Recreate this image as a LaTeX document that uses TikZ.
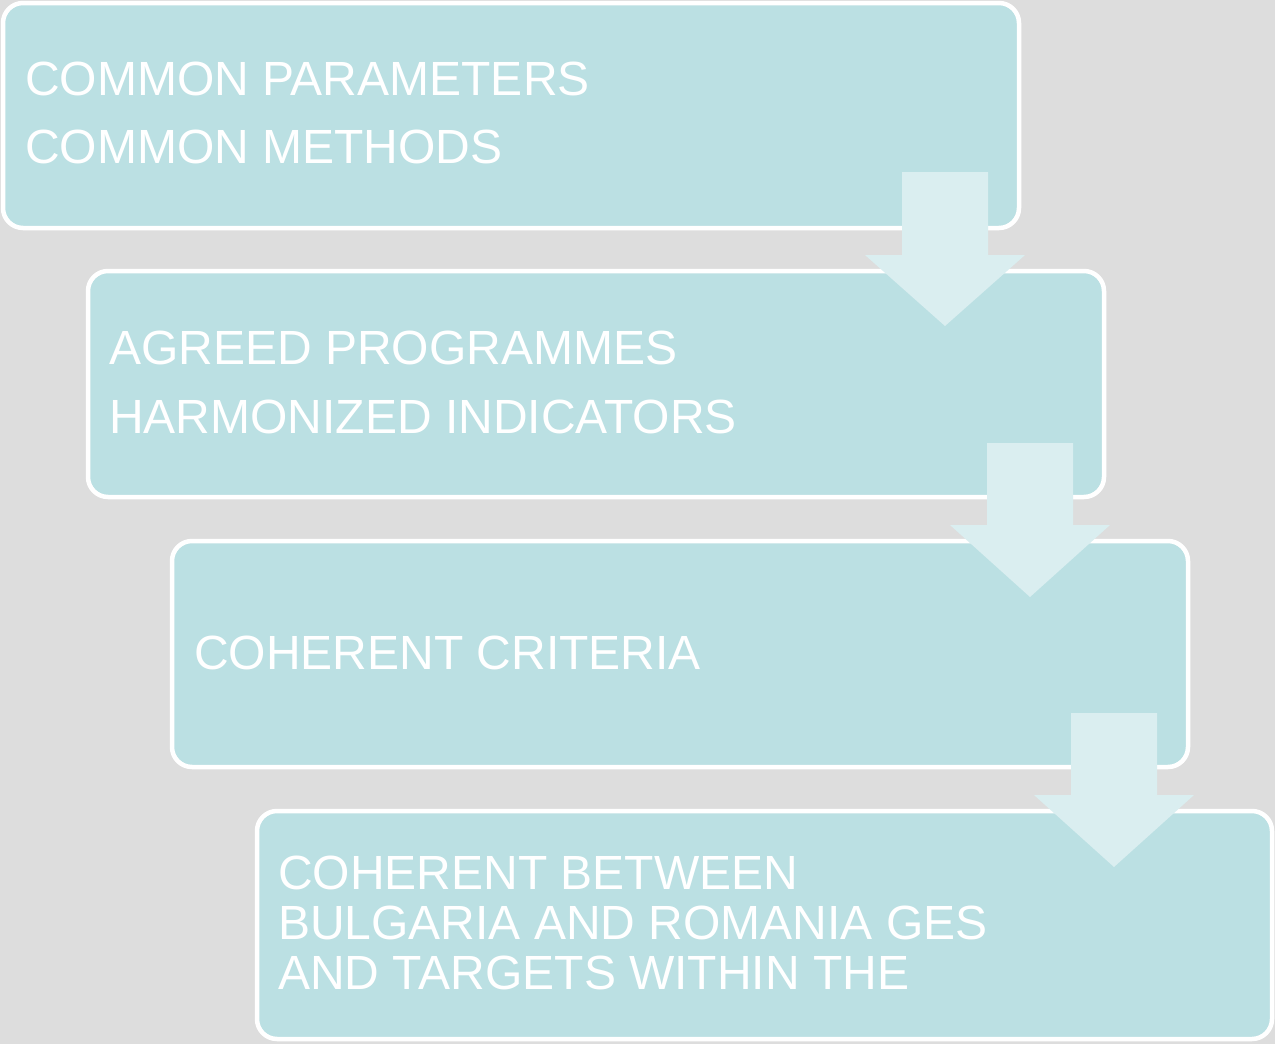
\documentclass[tikz,border=0pt]{standalone}
\usepackage{fontspec}
\setmainfont{Liberation Sans}
\definecolor{bggray}{HTML}{DDDDDD}
\definecolor{boxfill}{HTML}{BBE0E3}
\definecolor{arrowfill}{HTML}{DAEEF0}
\tikzset{
  stagebox/.style={draw=white, line width=4.5pt, fill=boxfill, rounded corners=20pt},
  stagetext/.style={anchor=base west, text=white, font=\fontsize{48}{52}\selectfont, inner sep=0pt},
  downarrow/.style={fill=arrowfill, draw=none}
}
\begin{document}
\begin{tikzpicture}[x=1pt,y=-1pt]
\fill[bggray] (0,0) rectangle (1275,1044);
\useasboundingbox (0,0) rectangle (1275,1044);
% boxes
\draw[stagebox] (3,3) rectangle (1019,228);
\draw[stagebox] (88,271) rectangle (1104,497);
\draw[stagebox] (172,541) rectangle (1188,767);
\draw[stagebox] (257,811) rectangle (1272,1039);
% arrows
\fill[downarrow] (902,172) -- (988,172) -- (988,255) -- (1025,255) -- (945,326) -- (865,255) -- (902,255) -- cycle;
\fill[downarrow] (987,443) -- (1073,443) -- (1073,525) -- (1110,525) -- (1030,597) -- (950,525) -- (987,525) -- cycle;
\fill[downarrow] (1071,713) -- (1157,713) -- (1157,795) -- (1194,795) -- (1114,867) -- (1034,795) -- (1071,795) -- cycle;
% texts
\node[stagetext] (t1a) at (25,95) {COMMON PARAMETERS};
\node[stagetext] (t1b) at (25,163) {COMMON METHODS};
\node[stagetext] (t2a) at (109,364) {AGREED PROGRAMMES};
\node[stagetext] (t2b) at (109,433) {HARMONIZED INDICATORS};
\node[stagetext] (t3) at (194,669) {COHERENT CRITERIA};
\node[stagetext] (t4a) at (278,889) {COHERENT BETWEEN};
\node[stagetext] (t4b) at (278,939) {BULGARIA AND ROMANIA GES};
\node[stagetext] (t4c) at (278,989) {AND TARGETS WITHIN THE};
\end{tikzpicture}
\end{document}
